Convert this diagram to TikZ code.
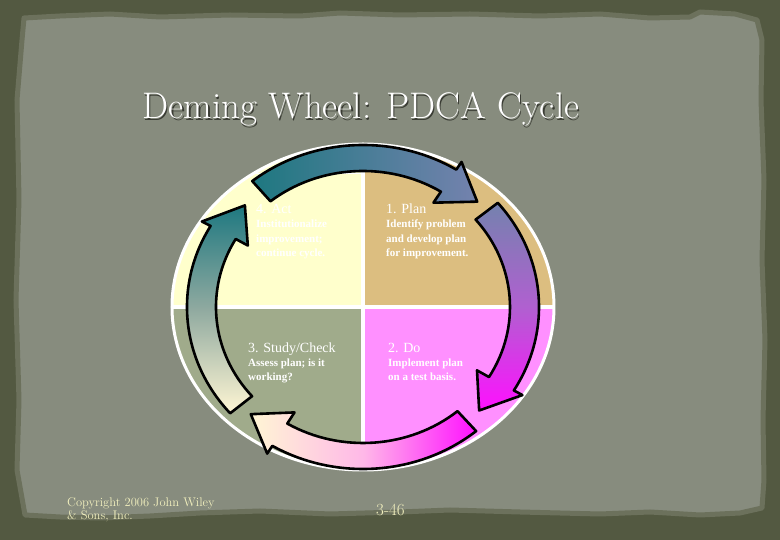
\documentclass[tikz,border=0pt]{standalone}
\usepackage{fontspec}
\newfontfamily\tnr{Liberation Serif}
\definecolor{frame}{HTML}{535941}
\definecolor{paper}{HTML}{878C7E}
\definecolor{paperedge}{HTML}{6C715C}
\definecolor{qcream}{HTML}{FFFFCC}
\definecolor{qtan}{HTML}{DCBE80}
\definecolor{qsage}{HTML}{A0AB8B}
\definecolor{qpink}{HTML}{FF90FF}
\definecolor{ateal}{HTML}{1E7880}
\definecolor{aslate}{HTML}{7482AE}
\definecolor{apurple}{HTML}{B060D0}
\definecolor{amag}{HTML}{FF10FF}
\definecolor{apink}{HTML}{FFB8E8}
\definecolor{acream}{HTML}{FFF6D4}
\definecolor{amid}{HTML}{90AAA0}
\definecolor{copycol}{HTML}{F2F0BE}
\definecolor{shadowcol}{HTML}{3A3C34}
\newcommand\pdcaarrow[2]{%
  \pgfmathsetmacro\pdcab{#1-71}\pgfmathsetmacro\pdcat{#1-84}%
  \path[arrowshape,#2] ({176*cos(#1)},{162*sin(#1)})
    arc[start angle=#1, end angle=\pdcab, x radius=176pt, y radius=162pt]
    -- ({186*cos(\pdcab)},{171*sin(\pdcab)})
    -- ({161.5*cos(\pdcat)},{149*sin(\pdcat)})
    -- ({133*cos(\pdcab)},{123*sin(\pdcab)})
    -- ({147*cos(\pdcab)},{136*sin(\pdcab)})
    arc[start angle=\pdcab, end angle=#1, x radius=147pt, y radius=136pt]
    -- cycle;}
\begin{document}
\begin{tikzpicture}[x=1pt,y=1pt,
  arrowshape/.style={draw=black, line width=2.6pt, line join=round},
  qhead/.style={anchor=base west, inner sep=0pt, text=white, font=\tnr\fontsize{14}{14}\selectfont},
  qline/.style={anchor=base west, inner sep=0pt, text=white, font=\tnr\bfseries\fontsize{11}{11}\selectfont},
  copytext/.style={anchor=base west, inner sep=0pt, text=copycol, font=\fontsize{12.5}{13}\selectfont},
  titletext/.style={anchor=base, inner sep=0pt, font=\fontsize{37}{37}\selectfont}]
\useasboundingbox (-363,-233) rectangle (417,307);
% background frame and paper
\fill[frame] (-363,-233) rectangle (417,307);
\begin{scope}[shift={(-363,307)}, yscale=-1]
\filldraw[fill=paper, draw=paperedge, line width=5pt, line join=round]
 (24,18) -- (60,16) -- (110,14) -- (160,17) -- (230,15) -- (300,16) -- (340,13) -- (400,15)
 -- (470,14) -- (540,16) -- (600,14) -- (650,18) -- (690,17) -- (700,12) -- (735,14) -- (757,20)
 -- (762,40) -- (761,100) -- (764,180) -- (762,260) -- (765,340) -- (763,420) -- (764,480)
 -- (762,508) -- (740,513) -- (700,515) -- (650,512) -- (600,514) -- (520,512) -- (450,510)
 -- (400,512) -- (330,514) -- (260,511) -- (200,513) -- (150,516) -- (100,518) -- (60,517)
 -- (25,515) -- (17,470) -- (19,400) -- (16,300) -- (19,200) -- (17,100) -- (22,40) -- cycle;
\end{scope}
% title
\node[titletext, text=shadowcol] (titleshadow) at (-0.8,186.8) {Deming Wheel: PDCA Cycle};
\node[titletext, text=white] (title) at (-2,188) {Deming Wheel: PDCA Cycle};
% wheel quadrants
\begin{scope}
\clip (0,0) ellipse[x radius=191pt, y radius=163pt];
\fill[qcream] (-200,0) rectangle (0,170);
\fill[qtan] (0,0) rectangle (200,170);
\fill[qsage] (-200,-170) rectangle (0,0);
\fill[qpink] (0,-170) rectangle (200,0);
\draw[white, line width=0.8pt] (-110,134) -- (0,134);
\draw[qtan!60!white, line width=0.8pt] (0,139) -- (100,139);
\draw[white, line width=4pt] (0,-170) -- (0,170);
\draw[white, line width=4pt] (-200,0) -- (200,0);
\end{scope}
\draw[white, line width=3pt] (0,0) ellipse[x radius=191pt, y radius=163pt];
% cycle arrows
\pdcaarrow{129}{left color=ateal, right color=aslate}
\pdcaarrow{40}{top color=aslate, bottom color=amag, middle color=apurple}
\pdcaarrow{-50}{right color=amag, left color=acream, middle color=apink}
\pdcaarrow{-139}{bottom color=acream, top color=ateal, middle color=amid}
% quadrant texts
\node[qhead] (act1) at (-107,93) {4. Act};
\node[qline] (act2) at (-107,79) {Institutionalize};
\node[qline] (act3) at (-107,64) {improvement;};
\node[qline] (act4) at (-107,50) {continue cycle.};
\node[qhead] (plan1) at (23,93) {1. Plan};
\node[qline] (plan2) at (23,79) {Identify problem};
\node[qline] (plan3) at (23,64) {and develop plan};
\node[qline] (plan4) at (23,50) {for improvement.};
\node[qhead] (study1) at (-115,-46) {3. Study/Check};
\node[qline] (study2) at (-115,-60) {Assess plan; is it};
\node[qline] (study3) at (-115,-74) {working?};
\node[qhead] (do1) at (25,-46) {2. Do};
\node[qline] (do2) at (25,-60) {Implement plan};
\node[qline] (do3) at (25,-74) {on a test basis.};
% footer
\node[copytext] (copy1) at (-296,-200) {Copyright 2006 John Wiley};
\node[copytext] (copy2) at (-296,-213) {\& Sons, Inc.};
\node[copytext, font=\fontsize{17}{17}\selectfont] (page) at (13,-209) {3-46};
\end{tikzpicture}
\end{document}
